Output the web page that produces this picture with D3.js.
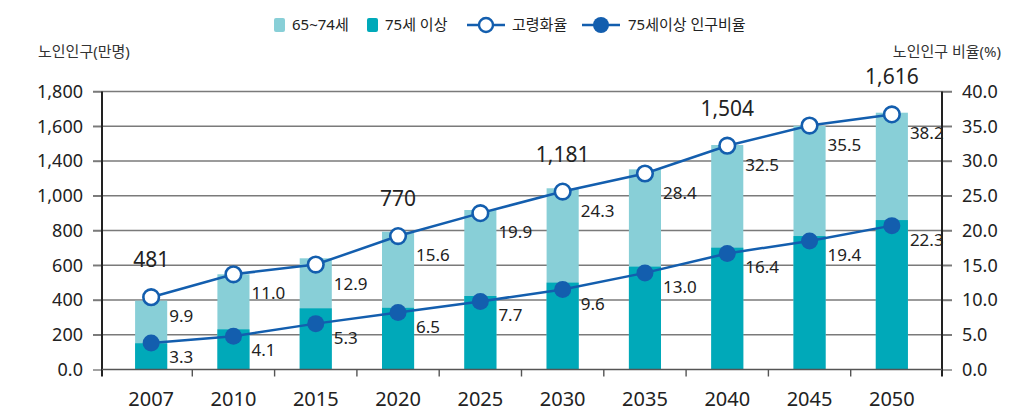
<!DOCTYPE html>
<html><head><meta charset="utf-8">
<script src="https://cdn.jsdelivr.net/npm/d3@7"></script>
<style>html,body{margin:0;padding:0;background:#fff;}svg{display:block;font-family:"Noto Sans","Noto Sans CJK KR",sans-serif;}</style>
</head><body><svg id="c" width="1024" height="416"></svg>
<script>
const years = ["2007","2010","2015","2020","2025","2030","2035","2040","2045","2050"];
const pop75plus = [151, 231, 352, 355, 423, 500, 592, 701, 768, 860];
const popTotal = [396, 548, 640, 793, 918, 1043, 1152, 1292, 1403, 1478];
const agingRate = [10.4, 13.7, 15.1, 19.2, 22.5, 25.6, 28.2, 32.2, 35.1, 36.7];
const agingRateLabels = ["9.9","11.0","12.9","15.6","19.9","24.3","28.4","32.5","35.5","38.2"];
const rate75 = [3.8, 4.8, 6.6, 8.2, 9.8, 11.5, 13.9, 16.7, 18.5, 20.7];
const rate75Labels = ["3.3","4.1","5.3","6.5","7.7","9.6","13.0","16.4","19.4","22.3"];
const totalLabelYears = ["2007","2020","2030","2040","2050"];
const totalLabelTexts = ["481","770","1,181","1,504","1,616"];
const leftTickValues = [0,200,400,600,800,1000,1200,1400,1600];
const leftTickLabels = ["0.0","200","400","600","800","1,000","1,400","1,600","1,800"];
const rightTickValues = [0,5,10,15,20,25,30,35,40];
const legendLabels = ["65~74세","75세 이상","고령화율","75세이상 인구비율"];

const C_LIGHT = "#88cfd7", C_DARK = "#00a9b9", C_LINE = "#135eae";
const svg = d3.select("#c");
const x = d3.scaleBand().domain(years).range([110,933]).paddingInner(0.61).paddingOuter(0.305);
const yL = d3.scaleLinear().domain([0,1600]).range([369.5,91.5]);
const yR = d3.scaleLinear().domain([0,40]).range([369.5,91.5]);
const X0 = 102, X1 = 942;

// gridlines
svg.append("g").selectAll("line").data(leftTickValues.slice(1)).join("line")
  .attr("x1",93).attr("x2",952).attr("y1",d=>yL(d)).attr("y2",d=>yL(d))
  .attr("stroke","#7a7a7a").attr("stroke-width",1.4);

// bars
const bars = svg.append("g");
bars.selectAll(".lt").data(years).join("rect").attr("class","lt")
  .attr("x",d=>x(d)).attr("width",x.bandwidth())
  .attr("y",(d,i)=>yL(popTotal[i])).attr("height",(d,i)=>yL(0)-yL(popTotal[i]))
  .attr("fill",C_LIGHT);
bars.selectAll(".dk").data(years).join("rect").attr("class","dk")
  .attr("x",d=>x(d)).attr("width",x.bandwidth())
  .attr("y",(d,i)=>yL(pop75plus[i])).attr("height",(d,i)=>yL(0)-yL(pop75plus[i]))
  .attr("fill",C_DARK);

// axes
const gl = svg.append("g").attr("transform",`translate(${X0},0)`)
  .call(d3.axisLeft(yL).tickValues(leftTickValues).tickSize(9).tickPadding(10).tickFormat((d,i)=>leftTickLabels[i]));
const gr = svg.append("g").attr("transform",`translate(${X1},0)`)
  .call(d3.axisRight(yR).tickValues(rightTickValues).tickSize(10).tickPadding(10).tickFormat(d3.format(".1f")));
[gl,gr].forEach(g=>{
  g.select(".domain").remove();
  g.selectAll(".tick line").attr("stroke","#7a7a7a").attr("stroke-width",1.4);
  g.selectAll("text").attr("font-size",18).attr("fill","#222").attr("font-family",'"Noto Sans","Noto Sans CJK KR",sans-serif');
});
svg.append("line").attr("x1",X0).attr("x2",X0).attr("y1",yL(1600)).attr("y2",yL(0)+7).attr("stroke","#222").attr("stroke-width",2);
svg.append("line").attr("x1",X1).attr("x2",X1).attr("y1",yL(1600)).attr("y2",yL(0)+7).attr("stroke","#222").attr("stroke-width",2);

// x axis
const gx = svg.append("g").attr("transform",`translate(0,${yL(0)})`)
  .call(d3.axisBottom(x).tickSize(0).tickPadding(22));
gx.select(".domain").remove();
gx.selectAll("text").attr("font-size",20).attr("fill","#222").attr("font-family",'"Noto Sans","Noto Sans CJK KR",sans-serif');
svg.append("line").attr("x1",X0).attr("x2",X1).attr("y1",yL(0)).attr("y2",yL(0)).attr("stroke","#555").attr("stroke-width",1.6);
const step = x.step(), gap = step - x.bandwidth();
svg.append("g").selectAll("line").data(years.slice(0,-1)).join("line")
  .attr("x1",d=>x(d)+x.bandwidth()+gap/2).attr("x2",d=>x(d)+x.bandwidth()+gap/2)
  .attr("y1",yL(0)).attr("y2",yL(0)+7).attr("stroke","#555").attr("stroke-width",1.4);

// lines
const cx = d=>x(d)+x.bandwidth()/2;
const lineA = d3.line().x((d,i)=>cx(years[i])).y(d=>yR(d));
svg.append("path").datum(agingRate).attr("d",lineA).attr("fill","none").attr("stroke",C_LINE).attr("stroke-width",2.5);
svg.append("path").datum(rate75).attr("d",lineA).attr("fill","none").attr("stroke",C_LINE).attr("stroke-width",2.5);
svg.append("g").selectAll("circle").data(rate75).join("circle")
  .attr("cx",(d,i)=>cx(years[i])).attr("cy",d=>yR(d)).attr("r",8.5).attr("fill",C_LINE);
svg.append("g").selectAll("circle").data(agingRate).join("circle")
  .attr("cx",(d,i)=>cx(years[i])).attr("cy",d=>yR(d)).attr("r",7.8)
  .attr("fill","#fff").attr("stroke",C_LINE).attr("stroke-width",2.6);

// value labels
const lbl = svg.append("g").attr("font-size",17).attr("fill","#222");
lbl.selectAll(".a").data(agingRateLabels).join("text").attr("class","a")
  .attr("x",(d,i)=>x(years[i])+x.bandwidth()+2).attr("y",(d,i)=>yR(agingRate[i])+25).text(d=>d);
lbl.selectAll(".b").data(rate75Labels).join("text").attr("class","b")
  .attr("x",(d,i)=>x(years[i])+x.bandwidth()+2).attr("y",(d,i)=>yR(rate75[i])+20).text(d=>d);
svg.append("g").attr("font-size",21).attr("fill","#222").attr("text-anchor","middle")
  .selectAll("text").data(totalLabelTexts).join("text")
  .attr("x",(d,i)=>cx(totalLabelYears[i]))
  .attr("y",(d,i)=>yR(agingRate[years.indexOf(totalLabelYears[i])])-30).text(d=>d);

// axis titles
svg.append("text").attr("x",38).attr("y",57).attr("font-size",15).attr("fill","#333").text("노인인구(만명)");
svg.append("text").attr("x",1001).attr("y",57).attr("font-size",15).attr("fill","#333").attr("text-anchor","end").text("노인인구 비율(%)");

// legend
const lg = svg.append("g").attr("font-size",15).attr("fill","#222");
const ly = 25;
lg.append("rect").attr("x",274).attr("y",ly-7).attr("width",11).attr("height",14).attr("rx",2).attr("fill",C_LIGHT);
lg.append("text").attr("x",292).attr("y",ly+5).text(legendLabels[0]);
lg.append("rect").attr("x",367).attr("y",ly-7).attr("width",11).attr("height",14).attr("rx",2).attr("fill",C_DARK);
lg.append("text").attr("x",385).attr("y",ly+5).text(legendLabels[1]);
lg.append("line").attr("x1",467).attr("x2",505).attr("y1",ly).attr("y2",ly).attr("stroke",C_LINE).attr("stroke-width",2.5);
lg.append("circle").attr("cx",486).attr("cy",ly).attr("r",7).attr("fill","#fff").attr("stroke",C_LINE).attr("stroke-width",2.4);
lg.append("text").attr("x",512).attr("y",ly+5).text(legendLabels[2]);
lg.append("line").attr("x1",582).attr("x2",620).attr("y1",ly).attr("y2",ly).attr("stroke",C_LINE).attr("stroke-width",2.5);
lg.append("circle").attr("cx",601).attr("cy",ly).attr("r",8).attr("fill",C_LINE);
lg.append("text").attr("x",628).attr("y",ly+5).text(legendLabels[3]);
</script></body></html>
